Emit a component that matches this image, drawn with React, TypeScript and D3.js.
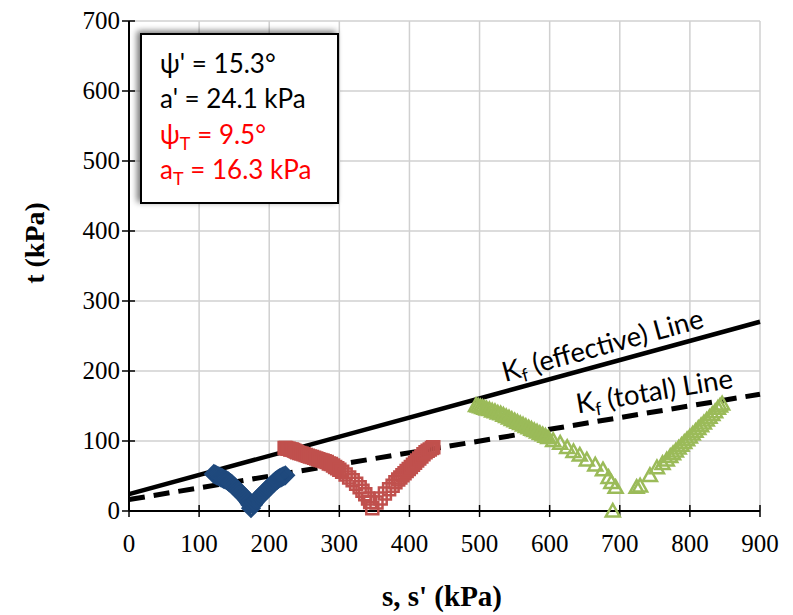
import React from "react";
import * as d3 from "d3";

const xTicks = [0, 100, 200, 300, 400, 500, 600, 700, 800, 900];
const yTicks = [0, 100, 200, 300, 400, 500, 600, 700];

const psiEff = 15.3;
const aEff = 24.1;
const psiTot = 9.5;
const aTot = 16.3;

const blueDiamonds: [number, number][] = [
  [121, 53], [123, 52], [125, 51], [127, 50], [129, 49], [131, 48], [133, 47], [135, 46], [137, 45], [139, 44],
  [141, 43], [143, 41], [145, 40], [147, 38], [149, 36], [151, 34], [153, 32], [155, 30], [157, 28], [159, 26],
  [161, 24], [163, 22], [165, 20], [167, 18], [169, 15], [171, 12], [173, 9], [174, 4],
  [177, 9], [179, 12], [181, 15], [183, 17], [185, 19], [187, 21], [189, 23], [191, 25], [193, 27], [195, 29],
  [197, 31], [199, 33], [201, 35], [203, 37], [205, 39], [207, 41], [209, 43], [211, 44], [213, 46], [215, 47],
  [217, 48], [219, 49], [221, 50], [223, 51],
];

const redSquares: [number, number][] = [
  [222, 90], [224, 90], [226, 89], [228, 89], [230, 88], [232, 88], [234, 87], [236, 86], [238, 85], [240, 84],
  [243, 83], [246, 82], [249, 81], [252, 80], [255, 79], [258, 78], [261, 77], [264, 76], [267, 75], [270, 74],
  [273, 73], [276, 72], [279, 71], [282, 70], [285, 68], [288, 67], [291, 65], [294, 63], [297, 61], [300, 59],
  [304, 56], [309, 52], [314, 48], [319, 44], [324, 39], [329, 34], [333, 29], [337, 24], [341, 18], [344, 13],
  [347, 4],
  [353, 12], [359, 18], [365, 25], [371, 31], [376, 36], [380, 41], [384, 45], [387, 48], [390, 51], [393, 54],
  [396, 57], [399, 60], [402, 63], [405, 66], [408, 69], [411, 72], [414, 75], [417, 78], [420, 81], [423, 84],
  [426, 86], [429, 88], [432, 90], [434, 91],
];

const greenTriangles: [number, number][] = [
  [495, 151], [498, 150], [501, 149], [504, 148], [507, 147], [510, 146], [514, 145], [518, 143], [522, 142],
  [526, 140], [530, 139], [534, 137], [538, 135], [542, 133], [546, 131], [550, 129], [554, 127], [558, 125],
  [562, 123], [566, 121], [570, 119], [574, 117], [578, 115], [582, 113], [586, 111], [590, 109], [594, 107],
  [598, 105], [605, 101], [615, 97], [625, 91], [634, 85], [643, 80], [653, 73], [665, 66], [676, 59],
  [684, 48], [688, 41], [694, 34], [690, 0],
  [724, 34], [729, 36], [743, 51], [753, 62], [761, 68], [767, 73], [772, 78], [776, 82], [780, 86], [784, 90],
  [788, 94], [792, 98], [796, 102], [800, 106], [804, 110], [808, 114], [812, 118], [816, 122], [820, 126],
  [824, 130], [828, 134], [832, 138], [836, 142], [840, 147], [843, 150], [846, 153],
];

const W = 793;
const H = 615;
const left = 129;
const right = 760;
const top = 21;
const bottom = 511;

export default function App() {
  const x = d3.scaleLinear().domain([0, 900]).range([left, right]);
  const y = d3.scaleLinear().domain([0, 700]).range([bottom, top]);

  const effLine = (s: number) => aEff + Math.tan((psiEff * Math.PI) / 180) * s;
  const totLine = (s: number) => aTot + Math.tan((psiTot * Math.PI) / 180) * s;

  const effPath = d3.line<number>().x((s) => x(s)).y((s) => y(effLine(s)))([0, 900]) || "";
  const totPath = d3.line<number>().x((s) => x(s)).y((s) => y(totLine(s)))([0, 900]) || "";

  const effAngle = (Math.atan2(y(effLine(0)) - y(effLine(900)), x(900) - x(0)) * 180) / Math.PI;
  const totAngle = (Math.atan2(y(totLine(0)) - y(totLine(900)), x(900) - x(0)) * 180) / Math.PI;

  const diamond = (cx: number, cy: number) => {
    const r = 8;
    return `M${cx},${cy - r}L${cx + r},${cy}L${cx},${cy + r}L${cx - r},${cy}Z`;
  };
  const square = (cx: number, cy: number) => {
    const h = 6;
    return `M${cx - h},${cy - h}H${cx + h}V${cy + h}H${cx - h}Z`;
  };
  const triangle = (cx: number, cy: number) => {
    const h = 7;
    return `M${cx},${cy - h}L${cx + h},${cy + h * 0.8}L${cx - h},${cy + h * 0.8}Z`;
  };

  const labelFont = "Lato, 'Open Sans', sans-serif";
  const serif = "'Liberation Serif', 'Times New Roman', serif";

  const effS = 539;
  const totS = 640;

  return (
    <svg width={W} height={H} style={{ display: "block", position: "absolute", left: 0, top: 0 }}>
      <rect x={0} y={0} width={W} height={H} fill="#fff" />
      <defs>
        <filter id="shadow" x="-20%" y="-20%" width="140%" height="140%">
          <feGaussianBlur in="SourceAlpha" stdDeviation="3" />
          <feOffset dx="-3" dy="-2" result="b" />
          <feComponentTransfer>
            <feFuncA type="linear" slope="0.55" />
          </feComponentTransfer>
          <feMerge>
            <feMergeNode />
            <feMergeNode in="SourceGraphic" />
          </feMerge>
        </filter>
      </defs>
      {/* grid */}
      {xTicks.map((t) => (
        <line key={"gx" + t} x1={x(t)} x2={x(t)} y1={top} y2={bottom} stroke="#d0d0d0" strokeWidth={1.5} />
      ))}
      {yTicks.map((t) => (
        <line key={"gy" + t} x1={left} x2={right} y1={y(t)} y2={y(t)} stroke="#d0d0d0" strokeWidth={1.5} />
      ))}
      {/* axes */}
      <line x1={left} x2={left} y1={top} y2={bottom} stroke="#000" strokeWidth={2} />
      <line x1={left} x2={right} y1={bottom} y2={bottom} stroke="#000" strokeWidth={2} />
      {xTicks.map((t) => (
        <line key={"tx" + t} x1={x(t)} x2={x(t)} y1={bottom - 6} y2={bottom + 6} stroke="#000" strokeWidth={1.5} />
      ))}
      {yTicks.map((t) => (
        <line key={"ty" + t} x1={left - 7} x2={left + 6} y1={y(t)} y2={y(t)} stroke="#000" strokeWidth={1.5} />
      ))}
      {xTicks.map((t) => (
        <text key={"lx" + t} x={x(t)} y={552} textAnchor="middle" fontFamily={serif} fontSize={25} fill="#000">
          {t}
        </text>
      ))}
      {yTicks.map((t) => (
        <text key={"ly" + t} x={120} y={y(t) + 8} textAnchor="end" fontFamily={serif} fontSize={25} fill="#000">
          {t}
        </text>
      ))}
      <text
        x={0}
        y={0}
        transform={`translate(44,${243}) rotate(-90)`}
        textAnchor="middle"
        fontFamily={serif}
        fontWeight="bold"
        fontSize={28}
      >
        t (kPa)
      </text>
      <text x={442} y={606} textAnchor="middle" fontFamily={serif} fontWeight="bold" fontSize={29}>
        s, s' (kPa)
      </text>

      {/* Kf lines */}
      <path d={effPath} stroke="#000" strokeWidth={4.5} fill="none" />
      <path d={totPath} stroke="#000" strokeWidth={5} fill="none" strokeDasharray="16 9" />

      {/* markers */}
      <g fill="none" stroke="#1F497D" strokeWidth={3}>
        {blueDiamonds.map((p, i) => (
          <path key={"b" + i} d={diamond(x(p[0]), y(p[1]))} />
        ))}
      </g>
      <g fill="none" stroke="#C0504D" strokeWidth={2.5}>
        {redSquares.map((p, i) => (
          <path key={"r" + i} d={square(x(p[0]), y(p[1]))} />
        ))}
      </g>
      <g fill="none" stroke="#9BBB59" strokeWidth={2.5}>
        {greenTriangles.map((p, i) => (
          <path key={"g" + i} d={triangle(x(p[0]), y(p[1]))} />
        ))}
      </g>

      {/* line labels */}
      <text
        transform={`translate(${x(effS) - 2},${y(effLine(effS)) - 9}) rotate(${-effAngle})`}
        fontFamily={labelFont}
        fontSize={27.5}
        fill="#000"
      >
        K<tspan fontSize={18} dy={5}>f</tspan>
        <tspan dy={-5}> (effective) Line</tspan>
      </text>
      <text
        transform={`translate(${x(totS)},${y(totLine(totS)) - 11}) rotate(${-totAngle})`}
        fontFamily={labelFont}
        fontSize={27.5}
        fill="#000"
      >
        K<tspan fontSize={18} dy={5}>f</tspan>
        <tspan dy={-5}> (total) Line</tspan>
      </text>

      {/* parameter box */}
      <rect x={141} y={34} width={197} height={169} fill="#fff" stroke="#000" strokeWidth={2} filter="url(#shadow)" />
      <g fontFamily={labelFont} fontSize={26}>
        <text x={160} y={73} fill="#000">ψ' = 15.3°</text>
        <text x={160} y={108} fill="#000">a' = 24.1 kPa</text>
        <text x={160} y={144} fill="#FF0000">
          ψ<tspan fontSize={18} dy={6}>T</tspan>
          <tspan dy={-6}> = 9.5°</tspan>
        </text>
        <text x={160} y={179} fill="#FF0000">
          a<tspan fontSize={18} dy={6}>T</tspan>
          <tspan dy={-6}> = 16.3 kPa</tspan>
        </text>
      </g>
    </svg>
  );
}
